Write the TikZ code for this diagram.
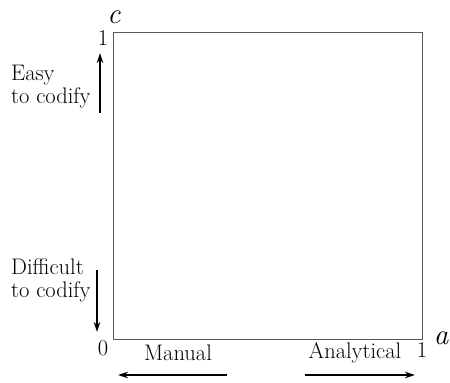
\documentclass[tikz,border=0pt]{standalone}
\usetikzlibrary{positioning,arrows.meta}

\tikzset{
  lbl/.style={font=\fontsize{22.5}{23}\selectfont, align=left, inner sep=0pt},
  axisname/.style={font=\fontsize{29}{29}\selectfont\itshape, inner sep=0pt},
  pointer/.style={-{Stealth[length=10pt,width=6.5pt]}, line width=1.3pt},
}

\begin{document}
\begin{tikzpicture}[x=1pt,y=-1pt]
        \useasboundingbox (0,0) rectangle (450,383);
        % unit square
        \node [draw=black!65, line width=1.2pt, inner sep=0pt, anchor=north west,
               minimum width=309pt, minimum height=307pt] (box) at (113,32) {};

        \node [axisname] (c) at (114,17) {c};
        \node [axisname] (a) at (441,338) {a};
        \node [lbl] (onec) at (103,38) {1};
        \node [lbl] (zero) at (103,348) {0};
        \node [lbl] (onea) at (422,350) {1};

        \node [lbl, anchor=west] (easy) at (11,87) {Easy\\to codify};
        \node [lbl, anchor=west] (hard) at (11,280) {Difficult\\to codify};
        \node [lbl] (manual) at (178,353) {Manual};
        \node [lbl] (analytical) at (355,353) {Analytical};

        \coordinate (easyfrom) at (100,113);
        \coordinate (easyto) at (100,53);
        \coordinate (hardfrom) at (97,270);
        \coordinate (hardto) at (97,332);
        \coordinate (manfrom) at (227,375);
        \coordinate (manto) at (118,375);
        \coordinate (anafrom) at (305,375);
        \coordinate (anato) at (415,375);

        \draw [pointer] (easyfrom) -- (easyto);
        \draw [pointer] (hardfrom) -- (hardto);
        \draw [pointer] (manfrom) -- (manto);
        \draw [pointer] (anafrom) -- (anato);
\end{tikzpicture}
\end{document}
